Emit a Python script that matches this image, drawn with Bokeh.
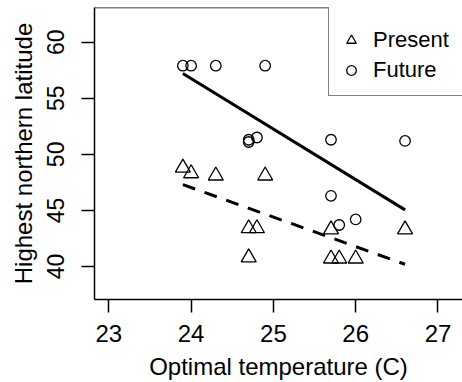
from bokeh.plotting import figure
from bokeh.models import FixedTicker, Span, Legend, LegendItem, Range1d
from bokeh.embed import file_html
from bokeh.resources import INLINE

# ---- data ----
temps = [23.9, 24.0, 24.3, 24.9, 24.7, 24.8, 24.7, 25.7, 26.6, 25.7, 25.8, 26.0]
present = [48.8, 48.3, 48.1, 48.1, 43.4, 43.4, 40.8, 43.3, 43.3, 40.7, 40.7, 40.7]
future = [57.9, 57.9, 57.9, 57.9, 51.1, 51.5, 51.3, 51.3, 51.2, 46.3, 43.7, 44.2]

fit_temp = [23.9, 26.6]
present_fit = [47.3, 40.2]
future_fit = [57.2, 45.05]

x_ticks = [23, 24, 25, 26, 27]
y_ticks = [40, 45, 50, 55, 60]

FONT = "Liberation Sans"
Y_TOP = 63.09

p = figure(width=462, height=382, output_backend="svg", toolbar_location=None,
           x_range=Range1d(22.826, 27.298), y_range=Range1d(37.06, Y_TOP),
           min_border_left=94, min_border_right=0, min_border_top=7, min_border_bottom=83)
p.outline_line_color = None
p.grid.visible = False
p.background_fill_color = "white"
p.border_fill_color = "white"

for ax in (p.xaxis[0], p.yaxis[0]):
    ax.axis_line_color = "black"
    ax.axis_line_width = 1.5
    ax.major_tick_line_color = "black"
    ax.major_tick_line_width = 1.5
    ax.major_tick_out = 13
    ax.major_tick_in = 0
    ax.minor_tick_line_color = None
    ax.major_label_text_font = FONT
    ax.major_label_text_color = "black"
    ax.axis_label_text_font = FONT
    ax.axis_label_text_font_size = "24px"
    ax.axis_label_text_font_style = "normal"
    ax.axis_label_text_color = "black"

p.xaxis.major_label_text_font_size = "24px"
p.yaxis.major_label_text_font_size = "23px"
p.xaxis.ticker = FixedTicker(ticks=x_ticks)
p.yaxis.ticker = FixedTicker(ticks=y_ticks)
p.xaxis.axis_label = "Optimal temperature (C)"
p.yaxis.axis_label = "Highest northern latitude"
p.yaxis.major_label_orientation = "vertical"
p.xaxis.major_label_standoff = 12
p.yaxis.major_label_standoff = 17
p.xaxis.axis_label_standoff = 8
p.yaxis.axis_label_standoff = 8

# top frame line
p.add_layout(Span(location=Y_TOP, dimension="width", line_color="black", line_width=1.5))

tri = p.scatter(temps, present, marker="triangle", size=15, fill_color=None,
                line_color="black", line_width=1.3)
circ = p.scatter(temps, future, marker="circle", size=10.5, fill_color=None,
                 line_color="black", line_width=1.3)

p.line(fit_temp, future_fit, line_color="black", line_width=3)
p.line(fit_temp, present_fit, line_color="black", line_width=3, line_dash="13 10")

legend = Legend(items=[LegendItem(label="Present", renderers=[tri]),
                       LegendItem(label="Future", renderers=[circ])],
                location=(234, 203), padding=10, glyph_width=24, glyph_height=30,
                label_height=30, label_width=120, spacing=0, label_standoff=10,
                title=" ", title_text_font_size="6px", title_standoff=2,
                border_line_color="black", border_line_width=1.5,
                label_text_font=FONT, label_text_font_size="22px",
                label_text_color="black",
                background_fill_color="white", background_fill_alpha=1.0, margin=0)
p.add_layout(legend)

open("out.html", "w").write(file_html(p, INLINE))
